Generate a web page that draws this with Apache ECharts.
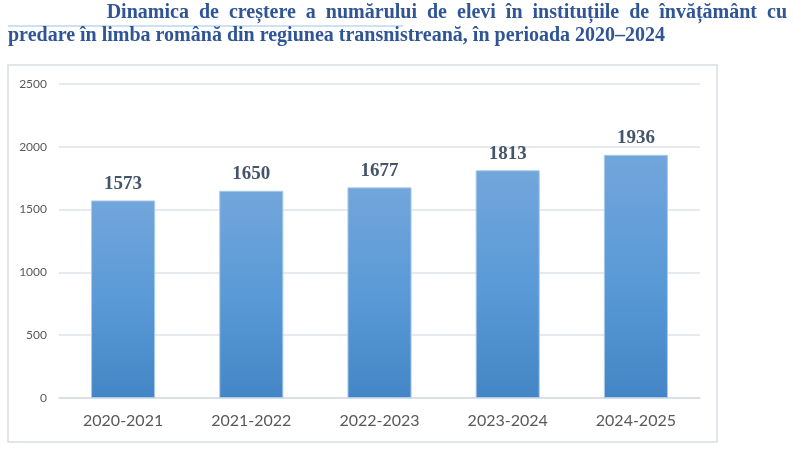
<!DOCTYPE html>
<html>
<head>
<meta charset="utf-8">
<script src="https://cdn.jsdelivr.net/npm/echarts@6/dist/echarts.min.js"></script>
<style>
    html, body { margin: 0; padding: 0; background: #fff; }
    #box { width: 794px; height: 450px; }
</style>
</head>
<body>
<div id="box"></div>
<script>
// date din grafic
var years = ['2020-2021', '2021-2022', '2022-2023', '2023-2024', '2024-2025'];
var elevi = [1573, 1650, 1677, 1813, 1936];
var titleLine1 = 'Dinamica  de  creștere  a  numărului  de  elevi  în  instituțiile  de  învățământ  cu';
var titleLine2 = 'predare în limba română din regiunea transnistreană, în perioada 2020–2024';

var myChart = echarts.init(document.getElementById('box'));
myChart.setOption({
    animation: false,
    graphic: [{
            type: 'rect',
            shape: { x: 8, y: 65, width: 709, height: 377 },
            style: { fill: 'none', stroke: '#D9DDE3', lineWidth: 1.5 }
        },
        {
            type: 'line',
            shape: { x1: 8, y1: 26, x2: 403, y2: 26 },
            style: { stroke: '#9DC3E6', lineWidth: 1 }
        },
        {
            type: 'text',
            right: 7,
            top: 3,
            style: {
                text: titleLine1,
                fill: '#2F5597',
                font: 'bold 20px "Liberation Serif"'
            }
        },
        {
            type: 'text',
            left: 8,
            top: 26,
            style: {
                text: titleLine2,
                fill: '#2F5597',
                font: 'bold 20px "Liberation Serif"'
            }
        }
    ],
    grid: {
        left: 59,
        right: 94,
        top: 84,
        bottom: 52
    },
    xAxis: {
        type: 'category',
        data: years,
        axisLine: { lineStyle: { color: '#D9DDE3', width: 1.5 } },
        axisTick: { show: false },
        axisLabel: {
            color: '#595959',
            fontFamily: 'Lato',
            fontSize: 16,
            margin: 15
        }
    },
    yAxis: {
        type: 'value',
        min: 0,
        max: 2500,
        interval: 500,
        axisLine: { show: false },
        axisTick: { show: false },
        splitLine: { lineStyle: { color: '#DEE2E8', width: 1.5 } },
        axisLabel: {
            color: '#595959',
            fontFamily: 'Lato',
            fontSize: 12,
            margin: 12,
            formatter: function (v) { return String(v); }
        }
    },
    series: [{
        type: 'bar',
        data: elevi,
        barWidth: '50%',
        itemStyle: {
            color: new echarts.graphic.LinearGradient(0, 0, 0, 1, [
                { offset: 0, color: '#72A6DB' },
                { offset: 0.5, color: '#5A9AD7' },
                { offset: 1, color: '#4485C5' }
            ]),
            borderColor: '#A9CBEB',
            borderWidth: 1
        },
        label: {
            show: true,
            position: 'top',
            distance: 7,
            color: '#44546A',
            fontFamily: 'Liberation Serif',
            fontWeight: 'bold',
            fontSize: 19
        }
    }]
});
</script>
</body>
</html>
